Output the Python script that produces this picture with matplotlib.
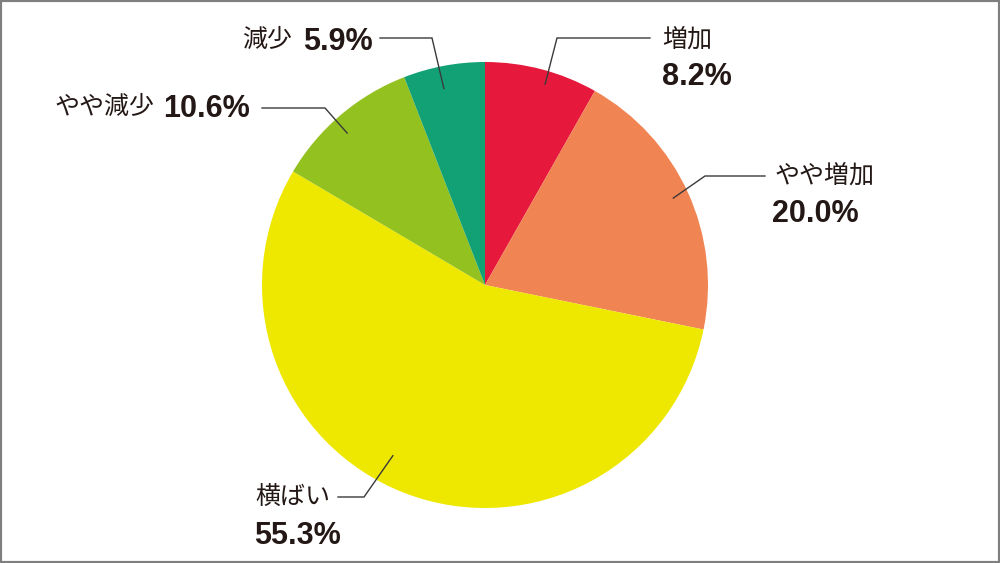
import numpy as np
import matplotlib
matplotlib.use("Agg")
import matplotlib.pyplot as plt
from matplotlib.patches import Rectangle

# ---- data ----
categories = ["増加", "やや増加", "横ばい", "やや減少", "減少"]
values = [8.2, 20.0, 55.3, 10.6, 5.9]
value_labels = ["8.2%", "20.0%", "55.3%", "10.6%", "5.9%"]

# ---- style ----
colors = ["#E6193C", "#F08452", "#EEE800", "#93C11F", "#12A175"]
text_color = "#231815"
line_color = "#3a3a3a"
W, H = 1000, 563
CX, CY, R = 485, 285, 223  # pixel coords (y from top)

def Y(y):
    return H - y

fig = plt.figure(figsize=(W / 100, H / 100), dpi=100)
fig.patch.set_facecolor("white")
ax = fig.add_axes([0, 0, 1, 1])

wedges, _ = ax.pie(values, colors=colors, startangle=90, counterclock=False,
                   center=(CX, Y(CY)), radius=R,
                   wedgeprops=dict(linewidth=0, antialiased=True))
ax.set_xlim(0, W)
ax.set_ylim(0, H)
ax.set_aspect("auto")
ax.axis("off")

# leader lines: anchor on wedge (angle offset, radius fraction), elbow, end (layout)
leader_layout = [
    dict(doff=-1.9, rf=0.94, elbow=(557, 38), end=(650, 38)),
    dict(doff=0.3, rf=0.93, elbow=(705, 176), end=(765, 176)),
    dict(doff=-7.3, rf=0.87, elbow=(364, 497), end=(338, 497)),
    dict(doff=1.9, rf=0.92, elbow=(325, 108), end=(262, 108)),
    dict(doff=1.2, rf=0.90, elbow=(432, 38), end=(380, 38)),
]
for w, lay in zip(wedges, leader_layout):
    mid = np.deg2rad((w.theta1 + w.theta2) / 2 + lay["doff"])
    ax0 = CX + lay["rf"] * R * np.cos(mid)
    ay0 = Y(CY) + lay["rf"] * R * np.sin(mid)
    ex, ey = lay["elbow"]
    nx, ny = lay["end"]
    ax.plot([ax0, ex, nx], [ay0, Y(ey), Y(ny)], color=line_color, lw=1.0,
            solid_joinstyle="miter")

jp = ["Noto Sans CJK JP", "DejaVu Sans"]
num = ["Liberation Sans", "DejaVu Sans"]
LS, NS = 18, 22

def label(x, y, s, ha="left"):
    ax.text(x, Y(y), s, ha=ha, va="center", fontsize=LS, family=jp, color=text_color)

def number(x, y, s, ha="left"):
    ax.text(x, Y(y), s, ha=ha, va="baseline", fontsize=NS, family=num,
            fontweight="bold", color=text_color)

# 増加
label(662, 40, categories[0]); number(662, 85, value_labels[0])
# やや増加
label(774, 176, categories[1]); number(772, 222, value_labels[1])
# 横ばい
label(255, 498, categories[2]); number(254, 544, value_labels[2])
# やや減少
label(54, 107, categories[3]); number(250, 117, value_labels[3], ha="right")
# 減少
label(242, 40, categories[4]); number(373, 50, value_labels[4], ha="right")

# border
fig.patches.append(Rectangle((0, 0), 1, 1, transform=fig.transFigure, fill=False,
                             edgecolor="#7f7f7f", linewidth=3, zorder=10))

fig.savefig("out.png", dpi=100, facecolor="white")
